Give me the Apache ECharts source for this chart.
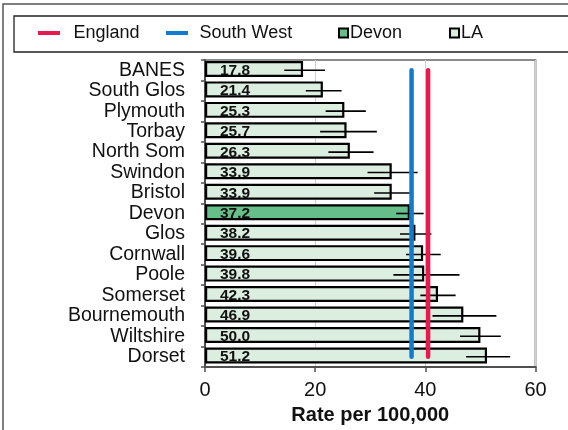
<!DOCTYPE html>
<html>
<head>
<meta charset="utf-8">
<script src="https://cdn.jsdelivr.net/npm/echarts@6/dist/echarts.min.js"></script>
<style>
html,body{margin:0;padding:0;background:#fff;}
#chart{width:568px;height:430px;}
</style>
</head>
<body>
<div id="chart"></div>
<script>
var categories = ['BANES','South Glos','Plymouth','Torbay','North Som','Swindon','Bristol','Devon','Glos','Cornwall','Poole','Somerset','Bournemouth','Wiltshire','Dorset'];
var rates = [17.8,21.4,25.3,25.7,26.3,33.9,33.9,37.2,38.2,39.6,39.8,42.3,46.9,50.0,51.2];
var lowerCI = [14.4,18.3,21.9,20.9,22.4,29.5,30.7,34.7,35.4,36.5,34.2,39.1,41.3,46.3,47.4];
var upperCI = [21.8,24.8,29.2,31.2,30.6,38.6,37.2,39.7,41.1,42.8,46.2,45.5,52.9,53.7,55.4];
var englandRate = 40.5;
var southWestRate = 37.5;
var xTicks = [0,20,40,60];
var highlight = 'Devon';

var FONT = '"Liberation Sans", Arial, sans-serif';
var RED = '#e8194f', BLUE = '#0f7ccf', DEVON = '#66bf8a', LA = '#dceee0';

var barData = categories.map(function(c,i){
  return {value: rates[i], itemStyle: {color: c === highlight ? DEVON : LA}};
});
var errData = categories.map(function(c,i){ return [lowerCI[i], upperCI[i], i]; });
var engData = categories.map(function(c){ return [englandRate, c]; });
var swData = categories.map(function(c){ return [southWestRate, c]; });

var chart = echarts.init(document.getElementById('chart'), null, {renderer:'canvas'});
function legendItem(left, name, icon, w, h, extra){
  return {
    left: left, top: 24, itemWidth: w, itemHeight: h, padding: 0,
    data: [{name: name, icon: icon}],
    textStyle: {fontFamily: FONT, fontSize: 18, color: '#111', padding: extra || 0},
    selectedMode: false
  };
}
chart.setOption({
  animation: false,
  backgroundColor: '#fff',
  textStyle: {fontFamily: FONT},
  graphic: [
    {type:'rect', shape:{x:3, y:4, width:600, height:460}, style:{fill:'none', stroke:'#555', lineWidth:1.5}, z:-10},
    {type:'rect', shape:{x:14, y:16, width:600, height:36}, style:{fill:'none', stroke:'#222', lineWidth:1.3}, z:-10}
  ],
  legend: [
    legendItem(38, 'England', 'path://M0,0 L22,0 L22,4 L0,4 Z', 23, 4, [0,0,0,8]),
    legendItem(166, 'South West', 'path://M0,0 L22,0 L22,4 L0,4 Z', 23, 4, [0,0,0,6]),
    legendItem(338, 'Devon', 'rect', 9, 9, [0,0,0,-3]),
    legendItem(449, 'LA', 'rect', 9, 9, [0,0,0,-3])
  ],
  grid: {left:205, right:32.5, top:60, bottom:62, show:true, borderColor:'#8c8c8c', borderWidth:2, backgroundColor:'#fff'},
  xAxis: {
    type:'value', min:0, max:60, interval:20,
    axisLine:{show:true, lineStyle:{color:'#505050', width:2}},
    axisTick:{show:true, length:5, lineStyle:{color:'#505050', width:1.5}},
    axisLabel:{fontFamily:FONT, fontSize:20, color:'#111', margin:13,
      formatter:function(v){ return xTicks.indexOf(v) >= 0 ? String(v) : ''; }},
    splitLine:{show:true, lineStyle:{color:'#d0d0d0', width:1}},
    name:'Rate per 100,000', nameLocation:'middle', nameGap:38,
    nameTextStyle:{fontFamily:FONT, fontSize:20, fontWeight:'bold', color:'#111'}
  },
  yAxis: {
    type:'category', data:categories, inverse:true,
    axisLine:{show:true, lineStyle:{color:'#505050', width:2}},
    axisTick:{show:true, length:4, interval:0, lineStyle:{color:'#505050', width:1.5}},
    axisLabel:{fontFamily:FONT, fontSize:19.5, color:'#111', margin:20, interval:0, hideOverlap:false, lineHeight:20}
  },
  series: [
    {
      name:'LA', type:'bar', data:barData, barWidth:'78%',
      itemStyle:{color:LA, borderColor:'#000', borderWidth:2.2},
      label:{show:true, position:'insideLeft', offset:[10,1.5], fontFamily:FONT, fontSize:15.5, fontWeight:'bold', color:'#111',
        formatter:function(p){ return p.value.toFixed(1); }},
      z:2
    },
    {
      name:'Devon', type:'bar', data:[], itemStyle:{color:DEVON, borderColor:'#000', borderWidth:2}
    },
    {
      name:'errors', type:'custom', data:errData, z:3,
      encode:{x:[0,1], y:2},
      renderItem:function(params, api){
        var idx = api.value(2);
        var p1 = api.coord([api.value(0), idx]);
        var p2 = api.coord([api.value(1), idx]);
        return {type:'line', shape:{x1:p1[0], y1:p1[1], x2:p2[0], y2:p2[1]}, style:{stroke:'#000', lineWidth:1.6}};
      }
    },
    {
      name:'South West', type:'line', data:swData, symbol:'none', z:5,
      lineStyle:{color:BLUE, width:4.5, cap:'round'}, itemStyle:{color:BLUE}
    },
    {
      name:'England', type:'line', data:engData, symbol:'none', z:5,
      lineStyle:{color:RED, width:4.5, cap:'round'}, itemStyle:{color:RED}
    }
  ]
});
</script>
</body>
</html>
